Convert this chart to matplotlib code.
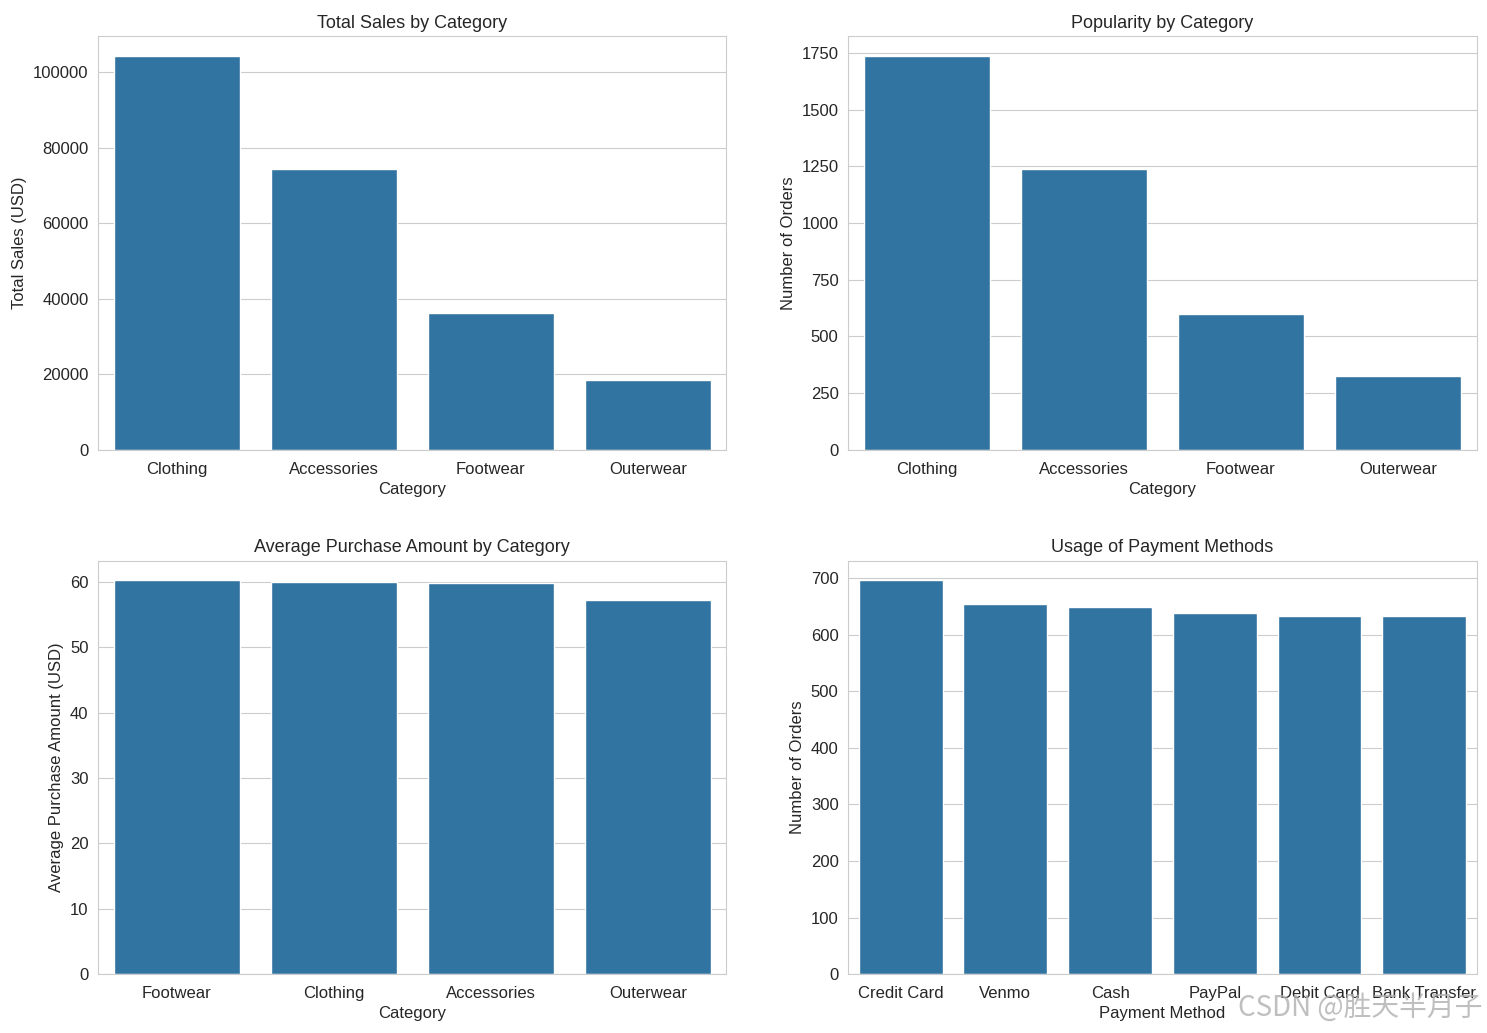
import matplotlib.pyplot as plt
import seaborn as sns

categories_sales = ['Clothing', 'Accessories', 'Footwear', 'Outerwear']
total_sales = [104264, 74200, 36093, 18524]

categories_orders = ['Clothing', 'Accessories', 'Footwear', 'Outerwear']
order_counts = [1737, 1240, 599, 324]

categories_avg = ['Footwear', 'Clothing', 'Accessories', 'Outerwear']
avg_amount = [60.26, 60.03, 59.84, 57.17]

payment_methods = ['Credit Card', 'Venmo', 'Cash', 'PayPal', 'Debit Card', 'Bank Transfer']
payment_counts = [696, 654, 648, 638, 633, 632]

sns.set_style('whitegrid')
plt.rcParams['font.family'] = ['Liberation Sans', 'DejaVu Sans']
plt.rcParams['font.size'] = 12

fig, axes = plt.subplots(2, 2, figsize=(14.87, 10.33), dpi=100)
plt.subplots_adjust(left=0.066, right=0.993, top=0.965, bottom=0.057, wspace=0.194, hspace=0.268)

ax = axes[0, 0]
sns.barplot(x=categories_sales, y=total_sales, ax=ax, color='#1f77b4')
ax.set_title('Total Sales by Category', fontsize=13)
ax.set_xlabel('Category')
ax.set_ylabel('Total Sales (USD)')

ax = axes[0, 1]
sns.barplot(x=categories_orders, y=order_counts, ax=ax, color='#1f77b4')
ax.set_title('Popularity by Category', fontsize=13)
ax.set_xlabel('Category')
ax.set_ylabel('Number of Orders')

ax = axes[1, 0]
sns.barplot(x=categories_avg, y=avg_amount, ax=ax, color='#1f77b4')
ax.set_title('Average Purchase Amount by Category', fontsize=13)
ax.set_xlabel('Category')
ax.set_ylabel('Average Purchase Amount (USD)')

ax = axes[1, 1]
sns.barplot(x=payment_methods, y=payment_counts, ax=ax, color='#1f77b4')
ax.set_title('Usage of Payment Methods', fontsize=13)
ax.set_xlabel('Payment Method')
ax.set_ylabel('Number of Orders')

for a in axes.flat:
    a.tick_params(labelsize=12)
    a.tick_params(axis='x', pad=5)

fig.text(0.997, 0.010, 'CSDN @胜天半月子', ha='right', va='bottom', fontsize=20,
         color='#b0b0b0', alpha=0.8, family=['Noto Sans CJK SC', 'DejaVu Sans'])

plt.savefig('out.png', dpi=100)
